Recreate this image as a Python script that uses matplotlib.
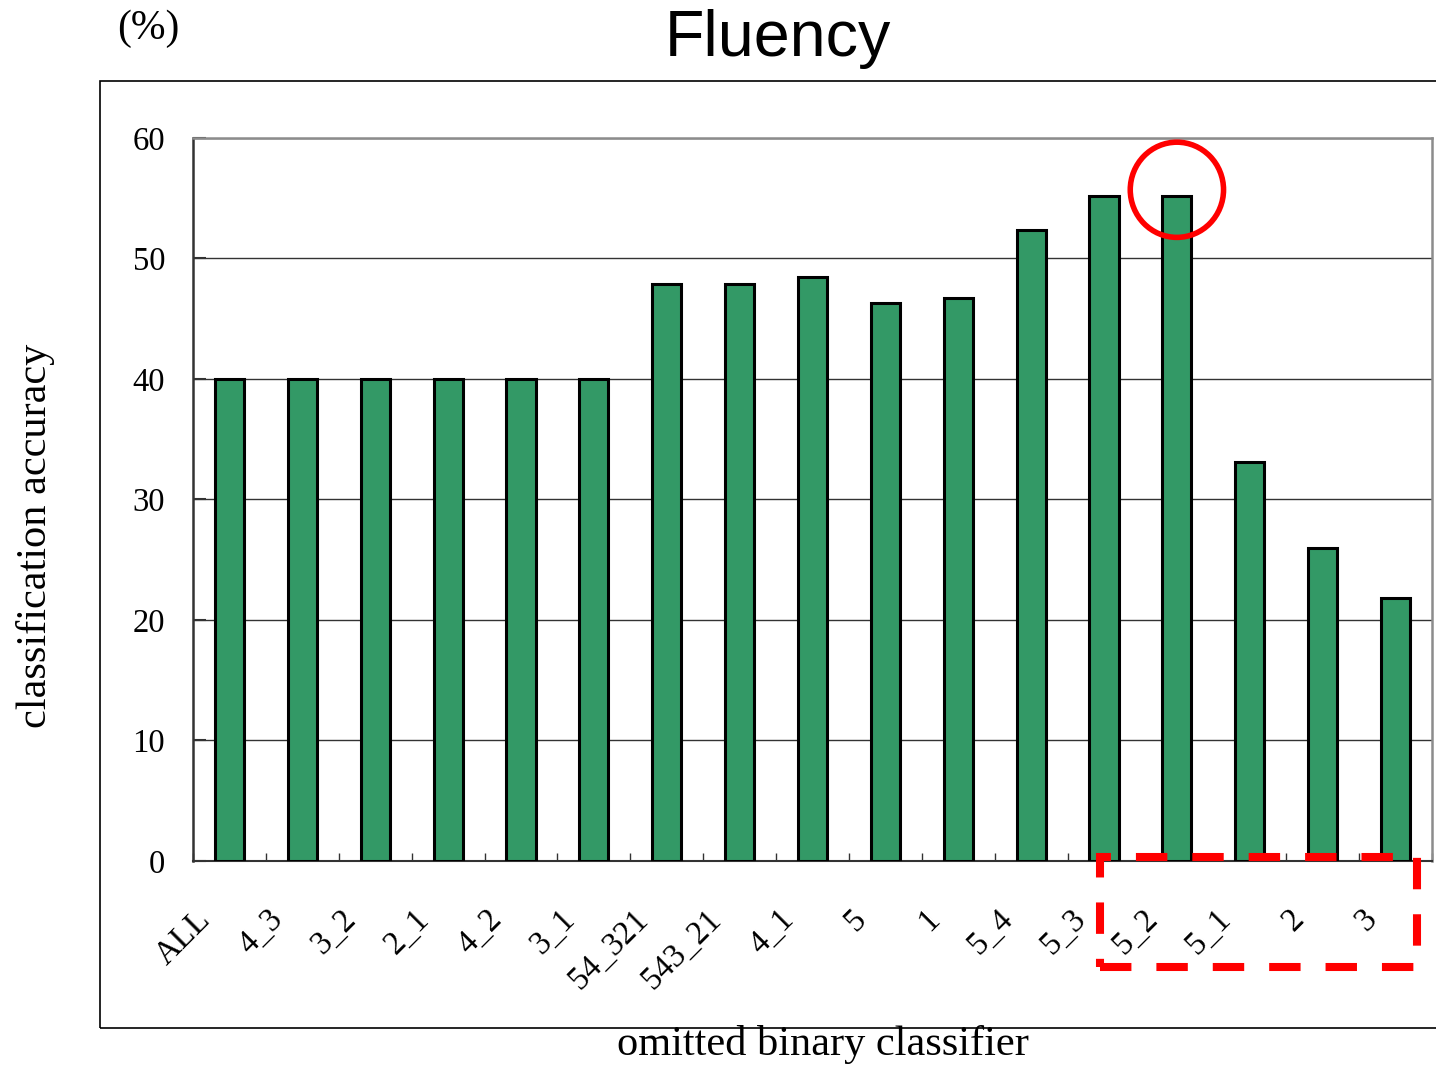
import matplotlib
matplotlib.use("Agg")
import matplotlib.pyplot as plt
import matplotlib.transforms as mtransforms
from matplotlib.patches import Ellipse, Rectangle
import numpy as np

# omitted binary classifier -> classification accuracy (%)
classifiers = ["ALL", "4_3", "3_2", "2_1", "4_2", "3_1", "54_321", "543_21",
               "4_1", "5", "1", "5_4", "5_3", "5_2", "5_1", "2", "3"]
accuracy = [40.0, 40.0, 40.0, 40.0, 40.0, 40.0, 47.9, 47.9,
            48.5, 46.3, 46.7, 52.4, 55.2, 55.2, 33.1, 26.0, 21.8]
y_ticks = [0, 10, 20, 30, 40, 50, 60]

BAR_COLOR = "#339966"
SERIF = ["Liberation Serif", "DejaVu Serif"]

fig = plt.figure(figsize=(14.36, 10.67), dpi=100)
ax = fig.add_axes([0.1344, 0.1931, 0.8628, 0.6776])

x = np.arange(len(classifiers))
ax.bar(x, accuracy, width=0.4, color=BAR_COLOR, edgecolor="black", linewidth=2.2, zorder=3)

ax.set_xlim(-0.5, len(classifiers) - 0.5)
ax.set_ylim(0, 60)
ax.set_yticks(y_ticks)
ax.set_yticklabels([str(v) for v in y_ticks], family=SERIF, fontsize=23.5)
ax.yaxis.grid(True, color="#333333", linewidth=1.0, zorder=0)
ax.tick_params(axis="y", direction="in", length=9, width=1.5, pad=20, color="#333333")

ax.set_xticks(x)
ax.set_xticklabels(classifiers, family=SERIF, fontsize=23.5, rotation=45, ha="right", va="top")
ax.set_xticks(np.arange(-0.5, len(classifiers)), minor=True)
ax.tick_params(axis="x", which="major", length=0, pad=31)
ax.tick_params(axis="x", which="minor", direction="in", length=6, width=1.0, color="#333333")
shift = mtransforms.ScaledTranslation(-13 / 100, 0, fig.dpi_scale_trans)
for lab in ax.get_xticklabels():
    lab.set_transform(lab.get_transform() + shift)

for side in ("top", "right"):
    ax.spines[side].set_color("#8c8c8c")
    ax.spines[side].set_linewidth(1.8)
ax.spines["left"].set_color("#333333")
ax.spines["left"].set_linewidth(1.8)
ax.spines["bottom"].set_color("#333333")
ax.spines["bottom"].set_linewidth(1.5)

# highlight on the 5_2 result and the last group of classifiers
ax.add_patch(Ellipse((13, 55.7), 1.28, 7.9, fill=False, edgecolor="#ff0000",
                     linewidth=4, clip_on=False, zorder=5))
ax.add_patch(Rectangle((11.94, -8.8), 4.36, 9.13, fill=False, edgecolor="#ff0000",
                       linewidth=5.8, linestyle=(0, (3.9, 3.1)), clip_on=False, zorder=5))

# outer chart frame
fig.patches.append(Rectangle((0.0696, 0.0366), 0.96, 0.8875, transform=fig.transFigure,
                             fill=False, edgecolor="black", linewidth=1.2))

fig.text(0.542, 1 - 56 / 1067, "Fluency", family=["Liberation Sans", "DejaVu Sans"],
         fontsize=46.5, ha="center", va="baseline")
fig.text(0.103, 1 - 29 / 1067, "(%)", family=SERIF, fontsize=30, ha="center", va="center")
fig.text(0.025, 1 - 536 / 1067, "classification accuracy", family=SERIF, fontsize=30.5,
         rotation=90, ha="center", va="center")
fig.text(0.573, 1 - 1045 / 1067, "omitted binary classifier", family=SERIF, fontsize=30.5,
         ha="center", va="center")

fig.savefig("out.png", dpi=100)
